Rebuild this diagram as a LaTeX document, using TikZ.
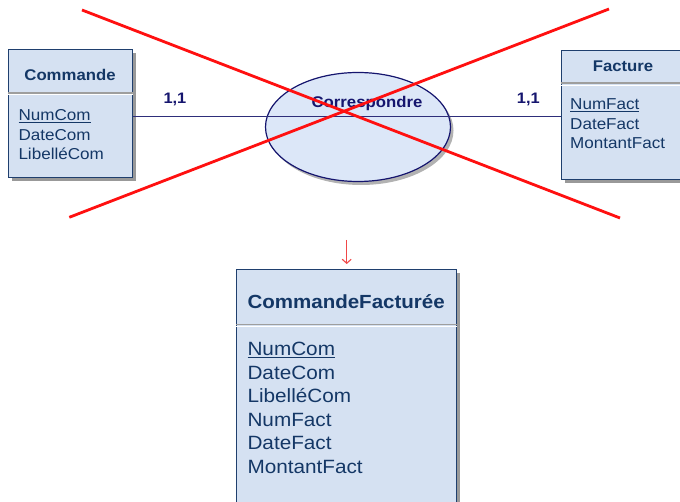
\documentclass[tikz,border=0pt]{standalone}
\usepackage{fontspec}
\setmainfont{Liberation Sans}[FakeStretch=1.08]
\usetikzlibrary{shadows,arrows.meta,shapes.geometric}
\definecolor{boxfill}{HTML}{D5E1F2}
\definecolor{boxline}{HTML}{1F3F6E}
\definecolor{boxtext}{HTML}{143766}
\definecolor{ellfill}{HTML}{DCE7F8}
\definecolor{ellline}{HTML}{15156E}
\definecolor{linkline}{HTML}{2E2E7A}
\definecolor{crossred}{HTML}{FF1010}
\definecolor{arrowred}{HTML}{F04848}
\tikzset{
  entity/.style={draw=boxline, line width=1pt, fill=boxfill, inner sep=0pt,
    anchor=north west,
    general shadow={fill=black!40, shadow xshift=3.5pt, shadow yshift=-3.5pt}},
  relation/.style={ellipse, draw=ellline, line width=1.2pt, fill=ellfill, inner sep=0pt,
    general shadow={fill=black!30, shadow xshift=3pt, shadow yshift=-3.5pt}},
  sepgray/.style={draw=black!38, line width=1.6pt},
  sepwhite/.style={draw=white, line width=1pt},
  txt/.style={inner sep=0pt, anchor=base west, text=boxtext},
  smalltxt/.style={txt, font=\fontsize{15.8}{18}\selectfont},
  smalltitle/.style={txt, anchor=base, font=\fontsize{15.5}{18}\selectfont\bfseries},
  bigtxt/.style={txt, font=\fontsize{19.2}{22}\selectfont},
  bigtitle/.style={txt, font=\fontsize{19}{22}\selectfont\bfseries},
  cardtxt/.style={inner sep=0pt, anchor=base west, text=ellline,
    font=\fontsize{15.2}{18}\selectfont\bfseries},
  link/.style={draw=linkline, line width=1.1pt},
  cross/.style={draw=crossred, line width=2.8pt},
  pointer/.style={draw=arrowred, line width=1.1pt, -{Straight Barb[length=4pt,width=9pt]}}
}
\begin{document}
\begin{tikzpicture}[x=1pt, y=-1pt]
\useasboundingbox (0,0) rectangle (680,502);
\clip (0,0) rectangle (680,502);

% entity Commande
\node[entity, minimum width=124pt, minimum height=128pt] (commande) at (8,49) {};
\draw[sepgray] (commande.west |- 0,93) -- (commande.east |- 0,93);
\draw[sepwhite] (commande.west |- 0,94.8) -- (commande.east |- 0,94.8);
\node[smalltitle] (commandeT) at (70,81) {Commande};
\node[smalltxt] (commandeA1) at (18.3,121) {\underline{NumCom}};
\node[smalltxt] (commandeA2) at (18.3,140.5) {DateCom};
\node[smalltxt] (commandeA3) at (18.3,160) {LibelléCom};

% entity Facture
\node[entity, minimum width=130pt, minimum height=129.5pt] (facture) at (560.5,50) {};
\draw[sepgray] (facture.west |- 0,83.3) -- (facture.east |- 0,83.3);
\draw[sepwhite] (facture.west |- 0,85.1) -- (facture.east |- 0,85.1);
\node[smalltitle] (factureT) at (623,71.5) {Facture};
\node[smalltxt] (factureA1) at (570,110) {\underline{NumFact}};
\node[smalltxt] (factureA2) at (570,129.5) {DateFact};
\node[smalltxt] (factureA3) at (570,149) {MontantFact};

% relationship Correspondre
\node[relation, minimum width=185pt, minimum height=109pt] (corresp) at (358,127) {};
\draw[link] (commande.east |- 0,116.5) -- (facture.west |- 0,116.5);
\node[inner sep=0pt, anchor=base, text=ellline, font=\fontsize{15.5}{18}\selectfont\bfseries]
  (correspT) at (367,107.7) {Correspondre};
\node[cardtxt] (card1) at (163.3,104) {1,1};
\node[cardtxt] (card2) at (516.7,104) {1,1};

% crossed-out association
\coordinate (crossA1) at (82,10);
\coordinate (crossA2) at (620,218);
\coordinate (crossB1) at (609,9);
\coordinate (crossB2) at (69.3,217.3);
\draw[cross] (crossA1) -- (crossA2);
\draw[cross] (crossB1) -- (crossB2);

% merged entity CommandeFacturée
\node[entity, minimum width=220pt, minimum height=236pt] (merged) at (236,269.5) {};
\draw[sepgray] (merged.west |- 0,324.5) -- (merged.east |- 0,324.5);
\draw[sepwhite] (merged.west |- 0,326.4) -- (merged.east |- 0,326.4);
\node[bigtitle] (mergedT) at (247.3,308.3) {CommandeFacturée};
\node[bigtxt] (mergedA1) at (247.3,356) {\underline{NumCom}};
\node[bigtxt] (mergedA2) at (247.3,379.4) {DateCom};
\node[bigtxt] (mergedA3) at (247.3,402.8) {LibelléCom};
\node[bigtxt] (mergedA4) at (247.3,426.2) {NumFact};
\node[bigtxt] (mergedA5) at (247.3,449.6) {DateFact};
\node[bigtxt] (mergedA6) at (247.3,473) {MontantFact};

% transformation arrow
\coordinate (arrowTop) at (346.7,240);
\coordinate (arrowEnd) at (346.7,264);
\draw[pointer] (arrowTop) -- (arrowEnd);
\end{tikzpicture}
\end{document}
